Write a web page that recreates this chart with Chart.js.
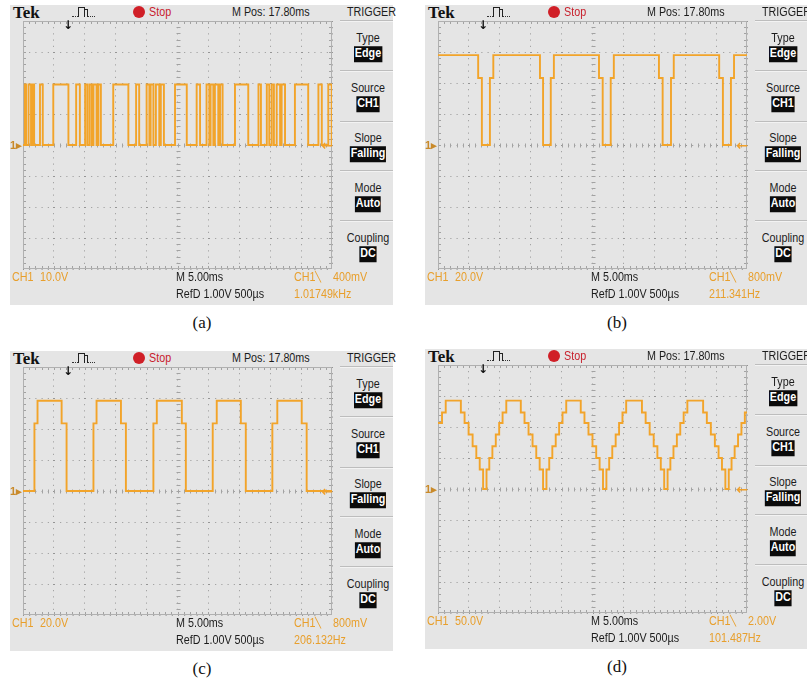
<!DOCTYPE html>
<html><head><meta charset="utf-8">
<script src="https://cdn.jsdelivr.net/npm/chart.js@4"></script>
<style>
html,body{margin:0;padding:0;background:#fff;}
#root{position:relative;width:807px;height:685px;overflow:hidden;background:#fff;}
.panel{position:absolute;width:400px;height:340px;}
.bg{position:absolute;left:10px;top:5px;width:383px;height:300px;background:#e5e5e5;}
.t{position:absolute;white-space:nowrap;font-family:"Liberation Sans",Arial,sans-serif;font-size:12.5px;line-height:1;color:#1c1c1c;}
.tek{font-family:"Liberation Serif","Times New Roman",serif;font-weight:bold;font-size:17px;color:#111;}
.stop{color:#c8202c;}
.or{color:#e89f2c;}
.box{background:#0b0b0b;color:#fff;font-weight:bold;padding:1px 1px 2px 1px;}
.cap{font-family:"Liberation Serif","Times New Roman",serif;font-size:17px;color:#111;}
.sep{position:absolute;left:340px;width:53px;height:0;border-top:1px solid #bdbdbd;border-bottom:1px solid #f3f3f3;}
.dot{position:absolute;left:133px;top:6px;width:12px;height:12px;border-radius:50%;background:#d01f27;}
.ic{position:absolute;}
</style>
</head><body><div id="root"></div>
<script>
// ---------- text content ----------
const panelCaptions = ['(a)', '(b)', '(c)', '(d)'];
const voltsPerDivLabels = ['10.0V', '20.0V', '20.0V', '50.0V'];
const voltsPerDiv = [10, 20, 20, 50];
const triggerLevels = ['400mV', '800mV', '800mV', '2.00V'];
const frequencies = ['1.01749kHz', '211.341Hz', '206.132Hz', '101.487Hz'];
const timebaseLabel = 'M 5.00ms';
const mPosLabel = 'M Pos: 17.80ms';
const refLabel = 'RefD 1.00V 500µs';
const menuTitles = ['Type', 'Source', 'Slope', 'Mode', 'Coupling'];
const menuValues = ['Edge', 'CH1', 'Falling', 'Auto', 'DC'];
const msPerDiv = 5;

// ---------- waveform data (time in ms from left of screen, volts) ----------
// (a) PWM pulses: [rise, fall] in ms, high level in V
const aHigh = 19.5;
const aPulses = [[0.3,0.5],[0.9,1.3],[1.5,1.8],[2.75,3.2],[4.9,7.35],[8.6,9.2],[10.05,10.4],[10.75,11.1],[11.4,11.9],[12.2,12.6],
  [14.6,17.05],[18.3,18.8],[20.0,20.45],[20.65,21.1],[21.5,22.05],[22.3,22.8],[24.6,26.5],[28.1,28.65],[29.7,30.15],[30.35,30.8],
  [31.05,31.6],[31.9,32.3],[34.3,36.45],[38.1,38.5],[39.45,39.85],[40.25,40.6],[41.05,41.6],[41.85,42.4],[44.0,46.15],[47.8,48.35],[49.4,49.95]];
// (b) dips: [to mid, to zero, back to mid, back to high]
const bHigh = 58.0, bMid = 43.2;
const bDips = [[6.5,7.1,8.4,8.95],[16.5,17.0,18.25,18.75],[26.05,26.65,27.95,28.45],[35.75,36.35,37.7,38.15],[45.5,46.1,47.4,47.9]];
// (c) pulses: [to mid, to high, back to mid, back to zero]
const cHigh = 58.2, cMid = 43.6;
const cPulses = [[1.85,2.35,6.25,7.05],[11.4,11.9,15.85,16.65],[21.1,21.65,25.7,26.35],[30.7,31.35,35.25,36.05],[40.35,41.15,45.1,45.9]];
// (d) staircase: level values and [time, level index] changes
const dLevels = [0, 31.5, 50, 69, 88, 106.5, 123.5, 142.5];
const dSteps = [[0,5],[0.65,6],[1.25,7],
  [3.7,6],[4.3,5],[4.95,4],[5.6,3],[6.2,2],[6.75,1],[7.3,0],[7.85,1],[8.3,2],[8.8,3],[9.35,4],[9.9,5],[10.45,6],[11.05,7],
  [13.4,6],[14.0,5],[14.65,4],[15.3,3],[15.9,2],[16.45,1],[17.0,0],[17.55,1],[18.0,2],[18.5,3],[19.05,4],[19.6,5],[20.15,6],[20.75,7],
  [23.1,6],[23.7,5],[24.35,4],[25.0,3],[25.6,2],[26.15,1],[26.7,0],[27.25,1],[27.7,2],[28.2,3],[28.75,4],[29.3,5],[29.85,6],[30.45,7],
  [33.0,6],[33.6,5],[34.25,4],[34.9,3],[35.5,2],[36.05,1],[36.6,0],[37.15,1],[37.6,2],[38.1,3],[38.65,4],[39.2,5],[39.75,6],[40.35,7],
  [42.9,6],[43.5,5],[44.15,4],[44.8,3],[45.4,2],[45.95,1],[46.5,0],[47.05,1],[47.5,2],[48.0,3],[48.55,4],[49.1,5],[49.65,6],[50,6]];

// ---------- build step point lists (each point = level that starts at that time) ----------
function buildA(){ const p=[{x:0,y:0}]; aPulses.forEach(([r,f])=>{p.push({x:r,y:aHigh},{x:f,y:0});}); p.push({x:50,y:0}); return p; }
function buildB(){ const p=[{x:0,y:bHigh}]; bDips.forEach(([a,b,c,d])=>{p.push({x:a,y:bMid},{x:b,y:0},{x:c,y:bMid},{x:d,y:bHigh});}); p.push({x:50,y:bHigh}); return p; }
function buildC(){ const p=[{x:0,y:0}]; cPulses.forEach(([a,b,c,d])=>{p.push({x:a,y:cMid},{x:b,y:cHigh},{x:c,y:cMid},{x:d,y:0});}); p.push({x:50,y:0}); return p; }
function buildD(){ return dSteps.map(([t,k])=>({x:t,y:dLevels[k]})); }
const waveforms = [buildA(), buildB(), buildC(), buildD()];

// ---------- styling ----------
const WAVE = '#f2a42a';
const GRIDC = '#959595';
const panelOrigins = [[0,0],[415,0],[0,346],[415,344]];
const GRID = {left:23, top:21, width:309, height:248};
const PAD = 3;
const NARROW = 0.86;

const scopeGrid = {
  id:'scopeGrid',
  beforeDatasetsDraw(chart){
    const {ctx, chartArea:a, scales:{x, y}} = chart;
    ctx.save();
    ctx.strokeStyle = '#a2a2a2'; ctx.lineWidth = 1;
    ctx.beginPath();
    const cx = Math.round(x.getPixelForValue((x.min+x.max)/2))+0.5;
    const cy = Math.round(y.getPixelForValue((y.min+y.max)/2))+0.5;
    for(let i=1;i<50;i++){
      const px = Math.round(x.getPixelForValue(x.min+(x.max-x.min)*i/50))+0.5;
      ctx.moveTo(px, cy-2); ctx.lineTo(px, cy+2);
      ctx.moveTo(px, a.top); ctx.lineTo(px, a.top+3);
      ctx.moveTo(px, a.bottom); ctx.lineTo(px, a.bottom-3);
    }
    for(let i=1;i<40;i++){
      const py = Math.round(y.getPixelForValue(y.min+(y.max-y.min)*i/40))+0.5;
      ctx.moveTo(cx-2, py); ctx.lineTo(cx+2, py);
      ctx.moveTo(a.left, py); ctx.lineTo(a.left+3, py);
      ctx.moveTo(a.right, py); ctx.lineTo(a.right-3, py);
    }
    ctx.stroke();
    ctx.strokeStyle = '#b0b0b0';
    ctx.strokeRect(a.left+0.5, a.top+0.5, a.right-a.left-1, a.bottom-a.top-1);
    ctx.restore();
  }
};

// ---------- DOM helpers ----------
const root = document.getElementById('root');
function el(parent, tag, cls, style, text){
  const e = document.createElement(tag);
  if(cls) e.className = cls;
  Object.assign(e.style, style||{});
  if(text!=null) e.textContent = text;
  parent.appendChild(e); return e;
}
function txt(p, s, x, y, cls, align, noScale){
  const e = el(p,'div','t '+(cls||''),{left:x+'px', top:y+'px'}, s);
  const sc = noScale ? '' : ' scaleX('+NARROW+')';
  if(align==='center'){ e.style.transformOrigin='50% 50%'; e.style.transform='translate(-50%,-50%)'+sc; }
  else if(align==='right'){ e.style.transformOrigin='100% 50%'; e.style.transform='translate(-100%,-50%)'+sc; }
  else { e.style.transformOrigin='0 50%'; e.style.transform='translateY(-50%)'+sc; }
  return e;
}

panelCaptions.forEach((cap, i)=>{
  const [ox, oy] = panelOrigins[i];
  const p = el(root,'div','panel',{left:ox+'px', top:oy+'px'});
  el(p,'div','bg');
  // header
  txt(p,'Tek',13,12,'tek',null,true);
  el(p,'div','ic',{left:'72px',top:'16px',width:'6px',borderTop:'1px dotted #333'});
  el(p,'div','ic',{left:'78px',top:'7px',width:'5px',height:'9px',border:'1px solid #222',borderBottom:'none'});
  el(p,'div','ic',{left:'84px',top:'9px',width:'3px',height:'7px',border:'1px solid #222',borderBottom:'none',borderLeft:'none'});
  el(p,'div','ic',{left:'88px',top:'16px',width:'7px',borderTop:'1px dotted #333'});
  el(p,'div','dot');
  txt(p,'Stop',149,12,'stop');
  txt(p,mPosLabel,232,12);
  txt(p,'TRIGGER',347,12);
  // side menu
  [20,70,121,170,220].forEach(y=>el(p,'div','sep',{top:y+'px'}));
  menuTitles.forEach((m,k)=>{
    txt(p,m,368,38+50*k,'','center');
    txt(p,menuValues[k],368,54+50*k,'box','center');
  });
  // chart
  const wrap = el(p,'div','',{position:'absolute', left:(GRID.left-PAD)+'px', top:(GRID.top-PAD)+'px'});
  const cv = el(wrap,'canvas');
  cv.width = GRID.width+2*PAD; cv.height = GRID.height+2*PAD;
  const vr = voltsPerDiv[i]*4;
  new Chart(cv, {
    type:'line',
    data:{datasets:[{data:waveforms[i], stepped:'before', borderColor:WAVE, borderWidth:1.9, pointRadius:0, fill:false, tension:0}]},
    options:{
      responsive:false, animation:false, devicePixelRatio:1, events:[],
      layout:{padding:PAD},
      plugins:{legend:{display:false}, tooltip:{enabled:false}},
      scales:{
        x:{type:'linear', min:0, max:10*msPerDiv, afterFit(s){s.height=0;},
           ticks:{display:false, stepSize:msPerDiv}, grid:{color:GRIDC, drawTicks:false, lineWidth:1},
           border:{display:false, dash:[1,5.2]}},
        y:{type:'linear', min:-vr, max:vr, afterFit(s){s.width=0;},
           ticks:{display:false, stepSize:voltsPerDiv[i]}, grid:{color:GRIDC, drawTicks:false, lineWidth:1},
           border:{display:false, dash:[1,5.2]}}
      }
    },
    plugins:[scopeGrid]
  });
  // markers
  const zeroY = GRID.top + GRID.height/2;
  txt(p,'1▸',10,zeroY,'or',null,true).style.cssText += 'font-weight:bold;font-size:11px;color:#c98a2a;';
  txt(p,'←',GRID.left+GRID.width+1,zeroY,'or','right',true).style.cssText += 'font-weight:bold;font-size:14px;font-family:"DejaVu Sans",sans-serif;color:#f0a02a;';
  txt(p,'↓',68,25,'','center',true).style.cssText += 'font-weight:bold;font-size:12px;font-family:"DejaVu Sans",sans-serif;color:#111;';
  // bottom info
  txt(p,'CH1',12,277,'or');
  txt(p,voltsPerDivLabels[i],40,277,'or');
  txt(p,timebaseLabel,176,277);
  txt(p,'CH1',294,277,'or');
  txt(p,'╲',318,277,'or','center',true).style.cssText += 'font-size:10px;';
  txt(p,triggerLevels[i],333,277,'or');
  txt(p,refLabel,176,294);
  txt(p,frequencies[i],294,294,'or');
  // caption
  txt(p,cap,202,322,'cap','center',true);
});
</script>
</body></html>
